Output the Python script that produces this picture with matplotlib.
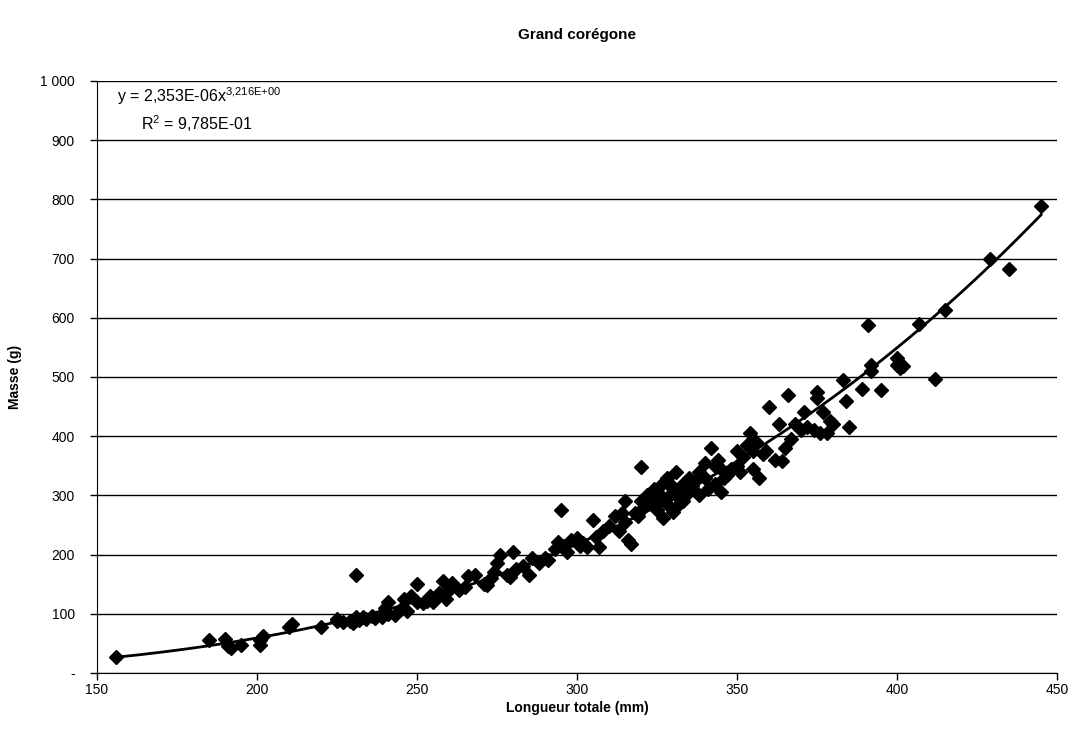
import matplotlib.pyplot as plt
import numpy as np

plt.rcParams['font.family'] = ['Liberation Sans', 'DejaVu Sans']

# longueur totale (mm) et masse (g)
longueur = [156, 185, 190, 191, 192, 195, 201, 202, 201, 210, 211, 220, 225, 225, 227,
            229, 230, 231, 231, 232, 233, 234, 236, 237, 239, 240, 241, 241, 243, 245,
            246, 247, 248, 250, 250, 252, 253, 254, 255, 256, 257, 258, 259, 260, 261,
            263, 265, 266, 268, 271, 272, 273, 274, 275, 276, 278, 279, 280, 281, 283,
            285, 286, 288, 290, 291, 293, 294, 295, 296, 297, 298, 300, 301, 302, 303,
            305, 306, 307, 308, 310, 312, 313, 314, 315, 315, 316, 317, 318, 319, 320,
            320, 321, 322, 323, 324, 325, 325, 326, 327, 328, 328, 329, 330, 330, 331,
            332, 333, 334, 335, 336, 337, 338, 340, 340, 341, 342, 343, 344, 345, 345,
            346, 348, 350, 350, 351, 352, 353, 354, 355, 355, 356, 357, 358, 359, 360,
            362, 363, 364, 365, 366, 367, 368, 370, 371, 372, 374, 375, 375, 376, 377,
            378, 379, 380, 383, 384, 385, 389, 391, 392, 392, 395, 400, 400, 401, 402,
            407, 412, 415, 429, 435, 445,
            322, 326, 329, 331, 333, 327, 324, 332, 336, 338, 343, 347]
masse = [27, 55, 58, 45, 42, 47, 48, 62, 55, 78, 82, 78, 88, 92, 86,
         88, 85, 165, 94, 90, 95, 92, 97, 93, 95, 110, 120, 100, 98, 108,
         125, 105, 130, 150, 120, 118, 122, 130, 120, 127, 135, 155, 125, 140, 152,
         140, 145, 163, 165, 150, 148, 160, 170, 185, 200, 165, 162, 205, 175, 180,
         165, 195, 185, 195, 190, 210, 222, 275, 215, 205, 225, 228, 215, 220, 212,
         258, 230, 213, 240, 248, 265, 240, 270, 255, 290, 225, 218, 270, 265, 348,
         290, 280, 295, 285, 300, 275, 305, 290, 262, 330, 285, 300, 310, 272, 340,
         295, 320, 300, 330, 310, 325, 340, 330, 355, 310, 380, 350, 360, 305, 345,
         330, 345, 350, 375, 340, 365, 385, 405, 375, 345, 390, 330, 370, 375, 450,
         360, 420, 358, 380, 470, 395, 420, 410, 440, 415, 410, 465, 475, 405, 440,
         405, 425, 420, 495, 460, 415, 480, 588, 520, 510, 478, 532, 520, 515, 518,
         590, 497, 613, 700, 682, 788,
         300, 315, 320, 305, 290, 295, 310, 285, 315, 300, 320, 335]

# courbe de tendance (puissance)
coef_a = 2.353e-6
coef_b = 3.216

fig = plt.figure(figsize=(10.91, 7.35), dpi=100)
ax = fig.add_axes([0.0889, 0.0844, 0.88, 0.8054])

xs = np.linspace(min(longueur), max(longueur), 200)
ax.plot(xs, coef_a * xs ** coef_b, color='black', lw=2, zorder=3)
ax.plot(longueur, masse, 'D', color='black', markersize=7, zorder=4)

ax.set_xlim(150, 450)
ax.set_ylim(0, 1000)
ax.set_xticks(range(150, 451, 50))
ax.set_yticks(range(0, 1001, 100))
ax.set_yticklabels(['-'] + [f'{v:,}'.replace(',', ' ') for v in range(100, 1001, 100)])
ax.yaxis.grid(True, color='black', lw=1)
ax.set_axisbelow(True)
for s in ['top', 'right']:
    ax.spines[s].set_visible(False)
ax.tick_params(labelsize=10, length=5, width=1, direction='out')
ax.tick_params(axis='x', pad=2)
ax.tick_params(axis='y', pad=11)
ax.set_xlabel('Longueur totale (mm)', fontsize=10, fontweight='bold', labelpad=3)
ax.set_ylabel('Masse (g)', fontsize=10, fontweight='bold', labelpad=13)
ax.set_title('Grand corégone', fontsize=11, fontweight='bold', pad=30)

ax.text(0.021, 0.993, r'y = 2,353E-06x$^{\mathregular{3{,}216E{+}00}}$', transform=ax.transAxes,
        fontsize=11.5, va='top')
ax.text(0.046, 0.946, r'R$^{\mathregular{2}}$ = 9,785E-01', transform=ax.transAxes,
        fontsize=11.5, va='top')

fig.savefig('out.png', dpi=100)
